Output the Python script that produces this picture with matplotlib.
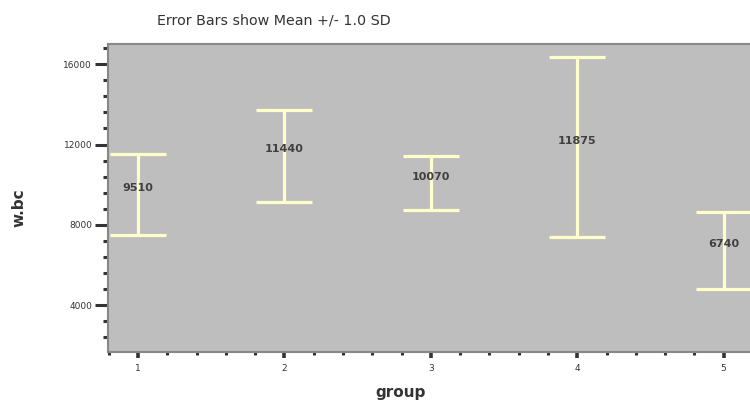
import matplotlib.pyplot as plt
from matplotlib.ticker import MultipleLocator

groups = [1, 2, 3, 4, 5]
means = [9510, 11440, 10070, 11875, 6740]
sds = [2040, 2290, 1340, 4470, 1910]
ytick_vals = [4000, 8000, 12000, 16000]

fig = plt.figure(figsize=(7.5, 4.01), dpi=100)
ax = fig.add_axes([0.144, 0.122, 0.856, 0.768])
ax.set_facecolor('#bebebe')

ax.errorbar(groups, means, yerr=sds, fmt='none', ecolor='#ffffcc',
            elinewidth=2.3, capsize=20.5, capthick=2.3, zorder=3)
for g, m in zip(groups, means):
    ax.annotate(str(m), (g, m), xytext=(0, 1), textcoords='offset points',
                ha='center', va='bottom', fontsize=8, fontweight='bold',
                color='#404040', zorder=4)

ax.set_xlim(0.795, 5.18)
ax.set_ylim(1665, 17000)
ax.set_xticks(groups)
ax.xaxis.set_minor_locator(MultipleLocator(0.2))
ax.set_yticks(ytick_vals)
ax.set_yticklabels([str(v) for v in ytick_vals])
ax.yaxis.set_minor_locator(MultipleLocator(800))

ax.tick_params(axis='y', which='major', length=9.4, width=2.2, color='#333333',
               labelsize=6.5, labelcolor='#333333', pad=2)
ax.tick_params(axis='y', which='minor', length=3.6, width=2.2, color='#333333')
ax.tick_params(axis='x', which='major', length=4.5, width=2.6, color='#333333',
               labelsize=6.5, labelcolor='#333333', pad=4)
ax.tick_params(axis='x', which='minor', length=2.2, width=2.2, color='#333333')

for side in ['left', 'top', 'bottom']:
    ax.spines[side].set_color('#888888')
    ax.spines[side].set_linewidth(1.5)
ax.spines['right'].set_visible(False)

fig.text(401 / 750, 1 - 392 / 401, 'group', ha='center', va='center',
         fontsize=11, fontweight='bold', color='#333333')
fig.text(19 / 750, 1 - 208 / 401, 'w.bc', ha='center', va='center', rotation=90,
         fontsize=11, fontweight='bold', color='#333333')
fig.text(157 / 750, 1 - 20 / 401, 'Error Bars show Mean +/- 1.0 SD',
         ha='left', va='center', fontsize=10.3, color='#333333')

fig.savefig('out.png', dpi=100)
